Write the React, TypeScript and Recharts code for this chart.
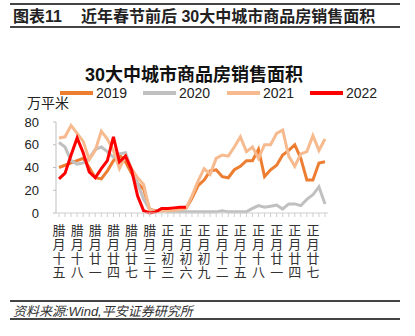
import React from 'react';
import { LineChart, Line, XAxis, YAxis } from 'recharts';

const categories: string[] = [
  '腊月十五', '腊月十六', '腊月十七', '腊月十八', '腊月十九', '腊月二十',
  '腊月廿一', '腊月廿二', '腊月廿三', '腊月廿四', '腊月廿五', '腊月廿六',
  '腊月廿七', '腊月廿八', '腊月廿九', '腊月三十',
  '正月初一', '正月初二', '正月初三', '正月初四', '正月初五', '正月初六',
  '正月初七', '正月初八', '正月初九', '正月初十', '正月十一', '正月十二',
  '正月十三', '正月十四', '正月十五', '正月十六', '正月十七', '正月十八',
  '正月十九', '正月二十', '正月廿一', '正月廿二', '正月廿三', '正月廿四',
  '正月廿五', '正月廿六', '正月廿七', '正月廿八', '正月廿九',
];

const s2019: number[] = [
  40, 42, 44, 46, 48, 40, 31, 30, 37, 46, 51, 45, 35, 26, 21, 3,
  2, 2, 2, 2.5, 3, 4, 13, 24, 29, 37, 38, 32, 31, 38, 41, 46, 46, 56,
  32, 38, 42, 51, 55, 60, 48, 29, 29, 44, 45,
];

const s2020: number[] = [
  62, 58, 46, 43, 44, 48, 56, 58, 54, 49, 52, 53, 38, 26, 12, 3,
  1, 4, 1, 1, 1, 1, 1, 1, 1, 1, 1, 2, 1, 1, 1, 1, 4, 6.5,
  5, 6, 7, 3.5, 8, 8, 6.5, 12, 16, 23, 8,
];

const s2021: number[] = [
  66, 67, 77, 70, 63, 47, 55, 72, 65, 55, 39, 50, 39, 31, 25, 2,
  1.5, 1.5, 2, 2.5, 3, 4, 15, 28, 39, 34, 48, 51, 50, 58, 67, 54, 58, 48,
  60, 60, 70, 73, 50, 41, 52, 54, 68, 55, 65,
];

const s2022: number[] = [
  30, 35, 51, 66, 53, 36, 31, 39, 46, 67, 45, 50, 38, 15, 2, 0,
  1, 4, 4, 4.5, 5, 5,
];

const yTicks: number[] = [0, 20, 40, 60, 80];
const seriesNames: string[] = ['2019', '2020', '2021', '2022'];
const seriesKeys: string[] = ['y2019', 'y2020', 'y2021', 'y2022'];
const seriesColors: string[] = ['#ED7D31', '#C0C0C0', '#F6BA8E', '#FF0000'];

const data = categories.map((c, i) => ({
  cat: c,
  y2019: s2019[i],
  y2020: s2020[i],
  y2021: s2021[i],
  y2022: i < s2022.length ? s2022[i] : null,
}));

const FONT = '"Liberation Sans", Arial, "Noto Sans CJK SC", sans-serif';

const XTick = (props: any) => {
  const { x, y, payload } = props;
  const idx = categories.indexOf(payload.value);
  if (idx % 3 !== 0) return <g />;
  const chars = Array.from(String(payload.value));
  return (
    <text x={x} y={y + 16} textAnchor="middle" fontSize={13} fill="#333" fontFamily={FONT}>
      {chars.map((ch, k) => (
        <tspan key={k} x={x} dy={k === 0 ? 0 : 14}>
          {ch}
        </tspan>
      ))}
    </text>
  );
};

export default function App() {
  return (
    <div
      style={{
        position: 'absolute',
        left: 0,
        top: 0,
        width: 415,
        height: 336,
        background: '#fff',
        fontFamily: FONT,
        color: '#222',
      }}
    >
      {/* header rules */}
      <div style={{ position: 'absolute', left: 10, top: 3, width: 390, height: 2, background: '#444' }} />
      <div style={{ position: 'absolute', left: 10, top: 26, width: 390, height: 1.5, background: '#444' }} />
      <div
        style={{
          position: 'absolute',
          left: 13,
          top: 7,
          fontSize: 16,
          lineHeight: '20px',
          fontWeight: 'bold',
          whiteSpace: 'nowrap',
          color: '#222',
        }}
      >
        图表11
      </div>
      <div
        style={{
          position: 'absolute',
          left: 81,
          top: 7,
          fontSize: 16,
          lineHeight: '20px',
          fontWeight: 'bold',
          whiteSpace: 'nowrap',
          color: '#222',
        }}
      >
        近年春节前后 30大中城市商品房销售面积
      </div>

      {/* chart title */}
      <div
        style={{
          position: 'absolute',
          left: 194,
          top: 64,
          transform: 'translateX(-50%)',
          fontSize: 18,
          lineHeight: '22px',
          fontWeight: 'bold',
          whiteSpace: 'nowrap',
          color: '#111',
        }}
      >
        30大中城市商品房销售面积
      </div>

      {/* legend */}
      {seriesNames.map((name, i) => {
        const lefts = [60, 143, 227, 310];
        return (
          <React.Fragment key={name}>
            <div
              style={{
                position: 'absolute',
                left: lefts[i],
                top: 91,
                width: 33,
                height: 3.5,
                background: seriesColors[i],
              }}
            />
            <div
              style={{
                position: 'absolute',
                left: lefts[i] + 36,
                top: 84.5,
                fontSize: 14,
                lineHeight: '16px',
                color: '#222',
                whiteSpace: 'nowrap',
              }}
            >
              {name}
            </div>
          </React.Fragment>
        );
      })}

      {/* unit */}
      <div
        style={{
          position: 'absolute',
          left: 27,
          top: 95,
          fontSize: 14,
          lineHeight: '16px',
          color: '#222',
          whiteSpace: 'nowrap',
        }}
      >
        万平米
      </div>

      <div style={{ position: 'absolute', left: 0, top: 0 }}>
        <LineChart
          width={415}
          height={336}
          data={data}
          margin={{ top: 122, right: 87, bottom: 43, left: 0 }}
        >
          <XAxis
            dataKey="cat"
            interval={0}
            padding={{ left: 3, right: 3 }}
            height={80}
            tickSize={4}
            tickMargin={2}
            axisLine={{ stroke: '#CFCFCF' }}
            tickLine={{ stroke: '#CFCFCF' }}
            tick={<XTick />}
          />
          <YAxis
            width={56}
            domain={[0, 80]}
            ticks={yTicks}
            interval={0}
            tickSize={3}
            tickMargin={14}
            axisLine={{ stroke: '#BFBFBF' }}
            tickLine={{ stroke: '#BFBFBF' }}
            tick={{ fontSize: 13, fill: '#222', fontFamily: FONT }}
          />
          {seriesKeys.map((k, i) => (
            <Line
              key={k}
              type="linear"
              dataKey={k}
              name={seriesNames[i]}
              stroke={seriesColors[i]}
              strokeWidth={3}
              dot={false}
              activeDot={false}
              isAnimationActive={false}
            />
          ))}
        </LineChart>
      </div>

      {/* footer */}
      <div style={{ position: 'absolute', left: 10, top: 300, width: 390, height: 1.5, background: '#444' }} />
      <div style={{ position: 'absolute', left: 10, top: 318, width: 390, height: 1.5, background: '#444' }} />
      <div
        style={{
          position: 'absolute',
          left: 13,
          top: 303.5,
          fontSize: 13,
          lineHeight: '16px',
          fontStyle: 'italic',
          color: '#333',
          whiteSpace: 'nowrap',
        }}
      >
        资料来源:Wind,平安证券研究所
      </div>
    </div>
  );
}
